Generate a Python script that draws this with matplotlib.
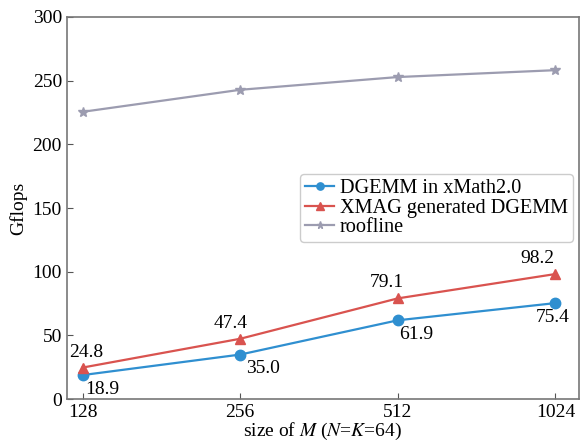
import matplotlib
matplotlib.use("Agg")
import matplotlib.pyplot as plt

# data
sizes = ["128", "256", "512", "1024"]
xmath = [18.9, 35.0, 61.9, 75.4]
xmag = [24.8, 47.4, 79.1, 98.2]
roofline = [225.5, 242.8, 252.8, 258.2]

plt.rcParams["font.family"] = ["Liberation Serif", "DejaVu Serif"]
plt.rcParams["mathtext.fontset"] = "stix"

fig = plt.figure(figsize=(5.81, 4.45), dpi=100)
ax = fig.add_axes([0.115, 0.103, 0.8816, 0.859])

x = list(range(len(sizes)))
blue = "#2f8fd0"
red = "#d9534f"
grey = "#9c9cb0"

ax.plot(x, xmath, color=blue, marker="o", markersize=7.5, lw=1.6, label="DGEMM in xMath2.0")
ax.plot(x, xmag, color=red, marker="^", markersize=7.5, lw=1.6, label="XMAG generated DGEMM")
ax.plot(x, roofline, color=grey, marker="*", markersize=7.5, lw=1.6, label="roofline")

# value labels (offsets in points, tuned per point)
xmath_off = [(2, -4), (4, -4), (1, -4), (-14, -4)]
xmag_off = [(-10, 5), (-7, 5), (-8, 5), (-13, 5)]
for i, v in enumerate(xmath):
    ax.annotate(f"{v:.1f}", (i, v), xytext=xmath_off[i], textcoords="offset points",
                ha="left", va="top", fontsize=14)
for i, v in enumerate(xmag):
    dx, dy = xmag_off[i]
    ax.annotate(f"{v:.1f}", (i, v), xytext=(dx, dy), textcoords="offset points",
                ha="left" if i == 0 else "center", va="bottom", fontsize=14)

ax.set_xlim(-0.1, 3.15)
ax.set_ylim(0, 300)
ax.set_xticks(x)
ax.set_xticklabels(sizes)
ax.set_yticks(range(0, 301, 50))
ax.tick_params(direction="in", labelsize=14, color="#555555", length=4)
for s in ax.spines.values():
    s.set_color("#777777")
    s.set_linewidth(1.2)

ax.set_xlabel("size of $M$ ($N$=$K$=64)", fontsize=14, labelpad=0)
ax.set_ylabel("Gflops", fontsize=14)

leg = ax.legend(loc="center right", bbox_to_anchor=(0.988, 0.5), fontsize=14.6,
                handlelength=1.4, borderpad=0.25, labelspacing=0.0, handletextpad=0.3,
                borderaxespad=0, markerscale=0.7, fancybox=True, framealpha=1)
leg.get_frame().set_edgecolor("#cccccc")

fig.savefig("out.png", dpi=100)
